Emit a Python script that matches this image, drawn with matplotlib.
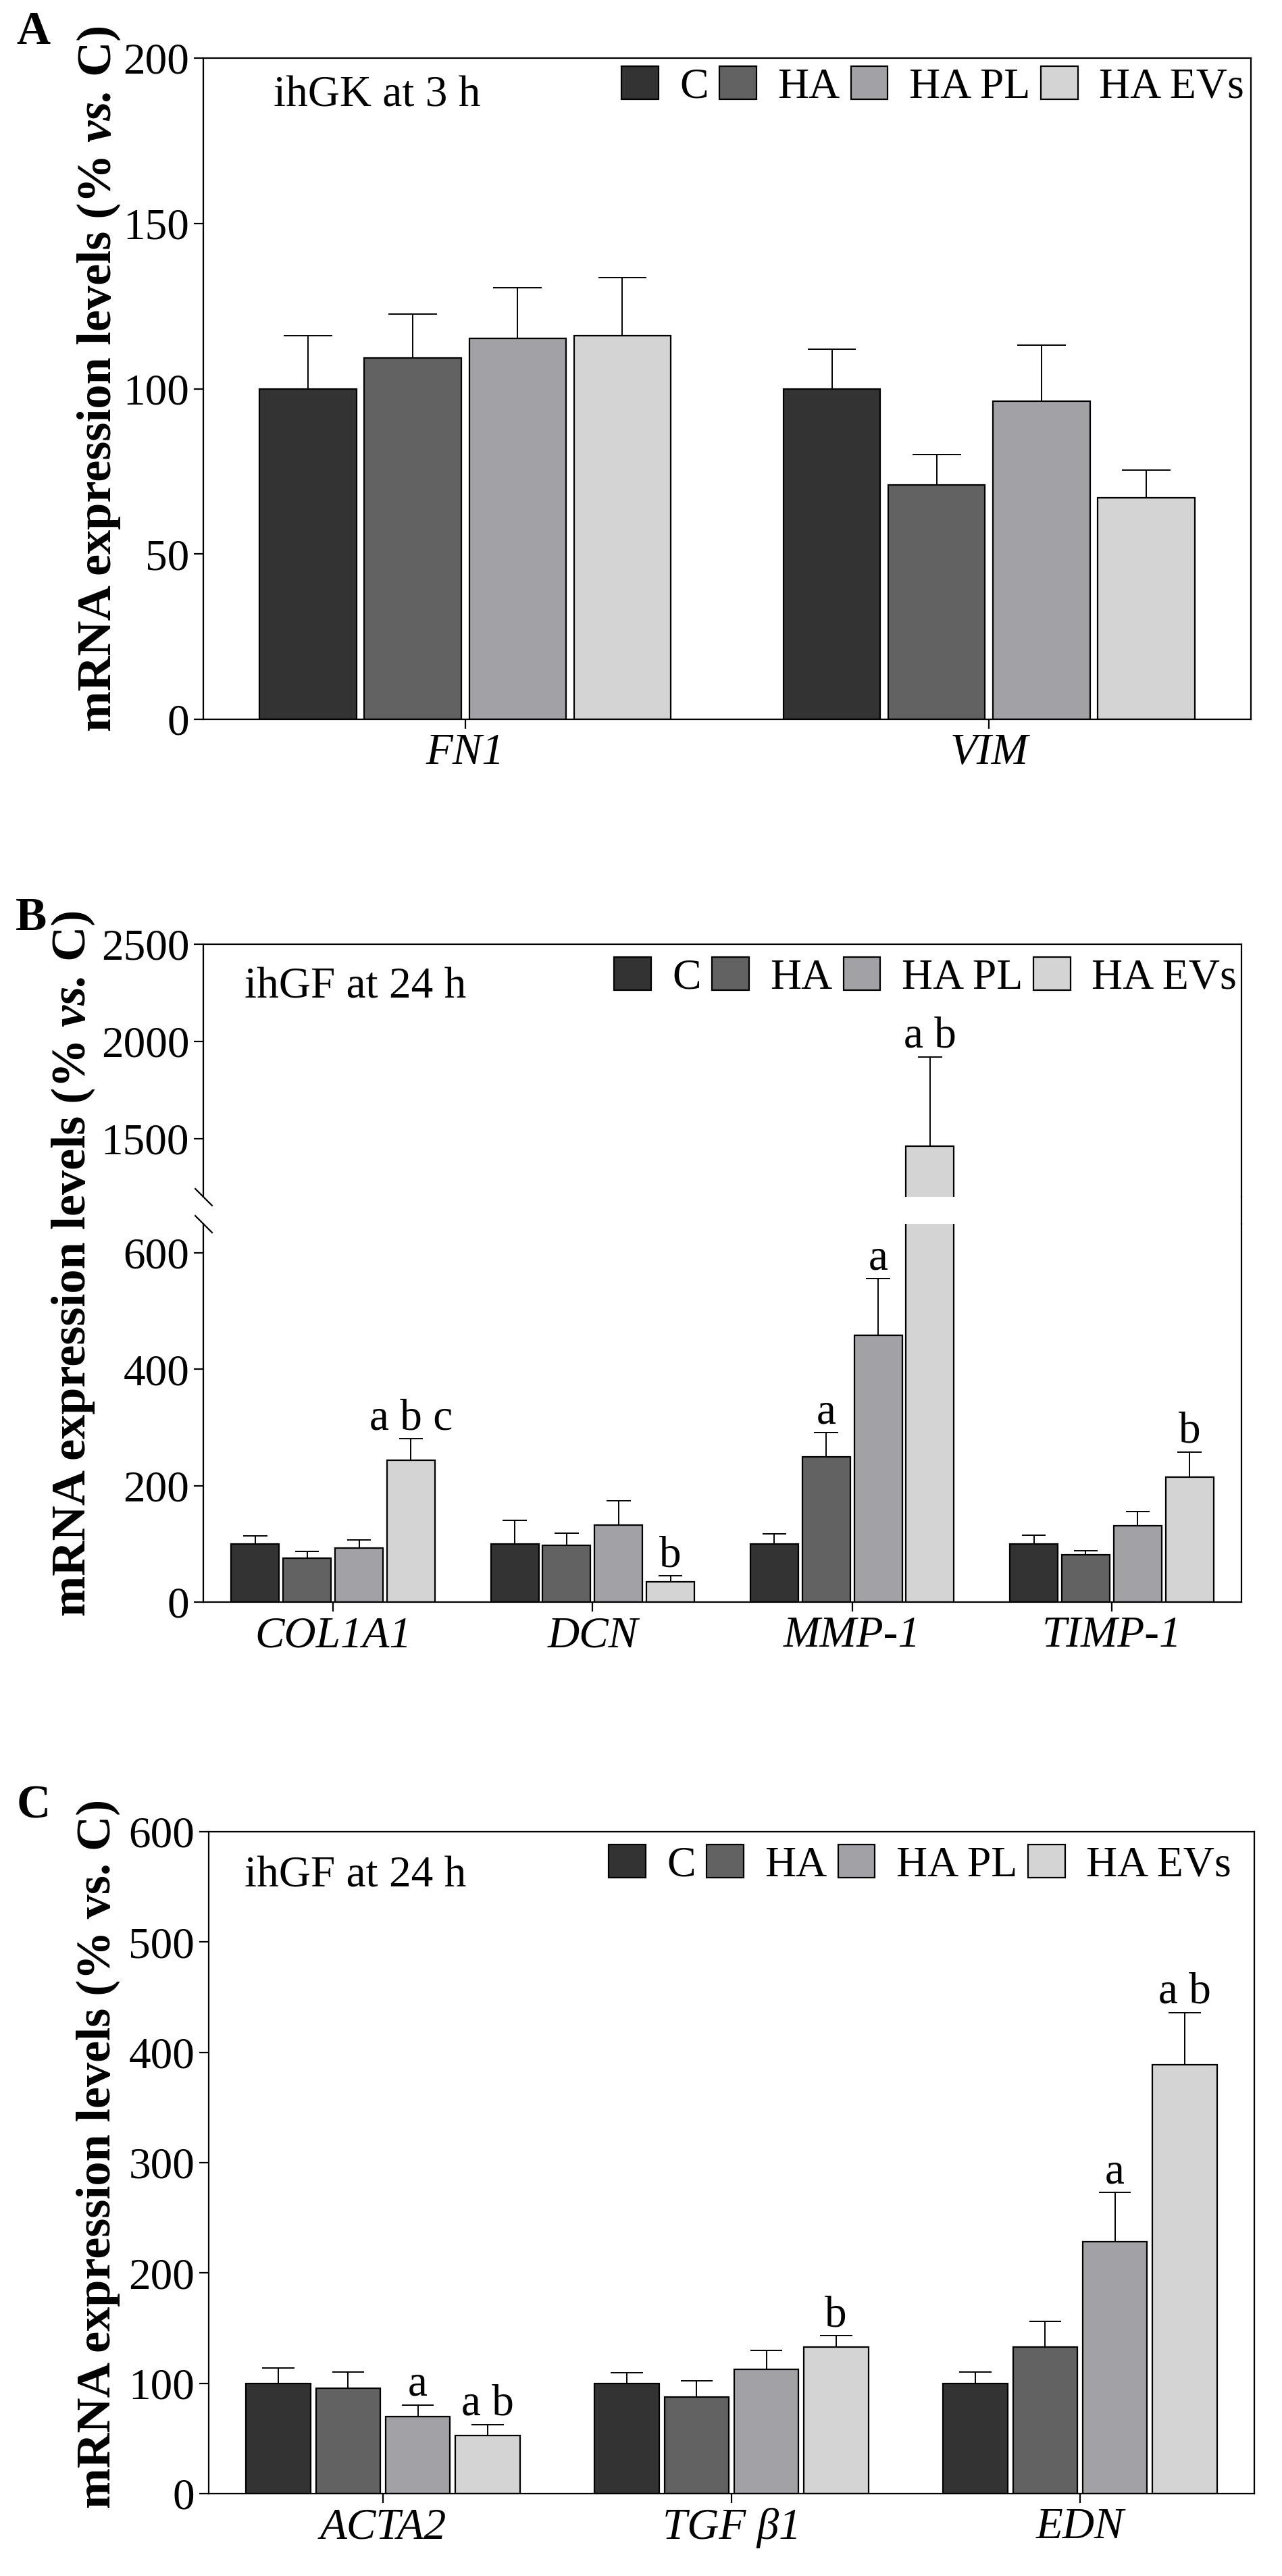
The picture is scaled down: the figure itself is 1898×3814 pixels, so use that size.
import numpy as np
import matplotlib
matplotlib.use('Agg')
import matplotlib.pyplot as plt
from matplotlib.patches import Patch
from matplotlib.lines import Line2D
from matplotlib.transforms import IdentityTransform

plt.rcParams['font.family'] = ['Liberation Serif', 'DejaVu Serif']

W, H, DPI = 1899, 3814, 100

SERIES = ['C', 'HA', 'HA PL', 'HA EVs']
COLORS = ['#333333', '#626262', '#a2a2a6', '#d4d4d4']
OFFSETS = [-0.3, -0.1, 0.1, 0.3]
BAR_W = 0.185

# Panel A: ihGK at 3 h (rows follow SERIES)
A_GENES = ['FN1', 'VIM']
A_MEANS = [[100, 100], [109.3, 70.9], [115.2, 96.2], [116.0, 67.0]]
A_ERRS = [[16.1, 11.9], [13.2, 9.1], [15.4, 17.0], [17.7, 8.3]]
A_LETTERS = []

# Panel B: ihGF at 24 h, broken y axis
B_GENES = ['COL1A1', 'DCN', 'MMP-1', 'TIMP-1']
B_MEANS = [[100, 100, 100, 100], [75, 97, 250, 81], [92.6, 132, 458, 131], [244, 35, 1461, 215]]
B_ERRS = [[14, 41, 17, 15], [12, 21.5, 41, 7], [14.4, 42, 98, 24.6], [36.6, 10, 459, 43]]
B_LETTERS = [(0, 3, 'a b c'), (1, 3, 'b'), (2, 1, 'a'), (2, 2, 'a'), (2, 3, 'a b'), (3, 3, 'b')]

# Panel C: ihGF at 24 h
C_GENES = ['ACTA2', 'TGF β1', 'EDN']
C_MEANS = [[100, 100, 100], [95.7, 87.3, 132.7], [69.6, 112.5, 228.4], [52.8, 132.7, 389]]
C_ERRS = [[14, 9.5, 10], [14.3, 14.7, 23.3], [10.9, 17.2, 44.4], [9.9, 10.3, 47]]
C_LETTERS = [(0, 2, 'a'), (0, 3, 'a b'), (1, 3, 'b'), (2, 2, 'a'), (2, 3, 'a b')]

FS = 47


def px_axes(fig, left, top, right, bottom):
    return fig.add_axes([left / W, 1 - bottom / H, (right - left) / W, (bottom - top) / H])


def style_axes(ax):
    for sp in ax.spines.values():
        sp.set_linewidth(1.6)
    ax.tick_params(direction='out', length=10, width=1.6, labelsize=FS, pad=5)


def draw_bars(ax, genes, means, errs, letters):
    base = np.arange(len(genes))
    for i in range(len(SERIES)):
        x = base + OFFSETS[i]
        m = np.asarray(means[i], float)
        e = np.asarray(errs[i], float)
        ax.bar(x, m, width=BAR_W, color=COLORS[i], edgecolor='black', linewidth=1.6, zorder=2)
        ax.vlines(x, m, m + e, color='black', linewidth=1.4, zorder=3)
        ax.hlines(m + e, x - BAR_W / 4, x + BAR_W / 4, color='black', linewidth=1.4, zorder=3)
    for g, s, txt in letters:
        top = means[s][g] + errs[s][g]
        ax.annotate(txt, xy=(g + OFFSETS[s], top), xytext=(0, 10), textcoords='offset points',
                    ha='center', va='baseline', fontsize=FS)
    ax.set_xlim(-0.5, len(genes) - 0.5)
    ax.set_xticks(base)
    ax.set_xticklabels(genes, fontstyle='italic')


def add_legend(fig, ax, right_px, top_px):
    handles = [Patch(facecolor=c, edgecolor='black', linewidth=1.6) for c in COLORS]
    ax.legend(handles, SERIES, loc='upper right', bbox_to_anchor=(right_px / W, 1 - top_px / H),
              bbox_transform=fig.transFigure, ncol=4, frameon=False, fontsize=46,
              borderpad=0, borderaxespad=0, handlelength=0.86, handleheight=0.8,
              handletextpad=0.49, columnspacing=0.25)


def rotated_label(fig, pieces, x_px, yc_px):
    renderer = fig.canvas.get_renderer()
    texts = []
    for s, style in pieces:
        t = fig.text(0, 0, s, transform=IdentityTransform(), rotation=90, rotation_mode='anchor',
                     ha='left', va='baseline', fontsize=52, fontweight='bold', fontstyle=style)
        texts.append(t)
    lengths = [t.get_window_extent(renderer).height for t in texts]
    y = (H - yc_px) - sum(lengths) / 2
    for t, L in zip(texts, lengths):
        t.set_position((x_px, y))
        y += L


fig = plt.figure(figsize=(W / DPI, H / DPI), dpi=DPI)

# ---- A ----
axA = px_axes(fig, 301, 86, 1852, 1065)
draw_bars(axA, A_GENES, A_MEANS, A_ERRS, A_LETTERS)
axA.set_ylim(0, 200)
axA.set_yticks(np.arange(0, 201, 50))
style_axes(axA)
axA.annotate('ihGK at 3 h', xy=(0, 1), xycoords='axes fraction', xytext=(104 * 0.72, -71 * 0.72),
             textcoords='offset points', ha='left', va='baseline', fontsize=FS)
add_legend(fig, axA, 1842, 98)

# ---- B ----
axBu = px_axes(fig, 301, 1398, 1838, 1772)
axBl = px_axes(fig, 301, 1812, 1838, 2372)
for ax in (axBu, axBl):
    draw_bars(ax, B_GENES, B_MEANS, B_ERRS, B_LETTERS)
    style_axes(ax)
axBu.set_ylim(1200, 2500)
axBu.set_yticks([1500, 2000, 2500])
axBl.set_ylim(0, 650)
axBl.set_yticks([0, 200, 400, 600])
axBu.spines['bottom'].set_visible(False)
axBu.tick_params(axis='x', bottom=False, labelbottom=False)
axBl.spines['top'].set_visible(False)
brk = dict(marker=[(-1, 1), (1, -1)], markersize=19, linestyle='none', color='k', mec='k',
           mew=1.6, clip_on=False)
axBu.plot([0], [0], transform=axBu.transAxes, **brk)
axBl.plot([0], [1], transform=axBl.transAxes, **brk)
fig.add_artist(Line2D([1838 / W, 1838 / W], [1 - 1772 / H, 1 - 1812 / H],
                      transform=fig.transFigure, color='k', linewidth=1.6))
axBu.annotate('ihGF at 24 h', xy=(0, 1), xycoords='axes fraction', xytext=(61 * 0.72, -80 * 0.72),
              textcoords='offset points', ha='left', va='baseline', fontsize=FS)
add_legend(fig, axBu, 1831, 1417)

# ---- C ----
axC = px_axes(fig, 309, 2712, 1857, 3692)
draw_bars(axC, C_GENES, C_MEANS, C_ERRS, C_LETTERS)
axC.set_ylim(0, 600)
axC.set_yticks(np.arange(0, 601, 100))
style_axes(axC)
axC.annotate('ihGF at 24 h', xy=(0, 1), xycoords='axes fraction', xytext=(53 * 0.72, -81 * 0.72),
             textcoords='offset points', ha='left', va='baseline', fontsize=FS)
add_legend(fig, axC, 1823, 2731)

# panel letters
for letter, x_px, y_px in [('A', 24, 65), ('B', 23, 1377), ('C', 25, 2692)]:
    fig.text(x_px / W, 1 - y_px / H, letter, fontsize=50, fontweight='bold', ha='left', va='baseline')

# y labels (A and B have italic "vs.")
italic_pieces = [('mRNA expression levels (%', 'normal'), (' vs.', 'italic'), (' C)', 'normal')]
rotated_label(fig, italic_pieces, 164, 560)
rotated_label(fig, italic_pieces, 126, 1870)
rotated_label(fig, [('mRNA expression levels (% vs. C)', 'normal')], 163, 3189)

fig.savefig('out.png', dpi=DPI)
